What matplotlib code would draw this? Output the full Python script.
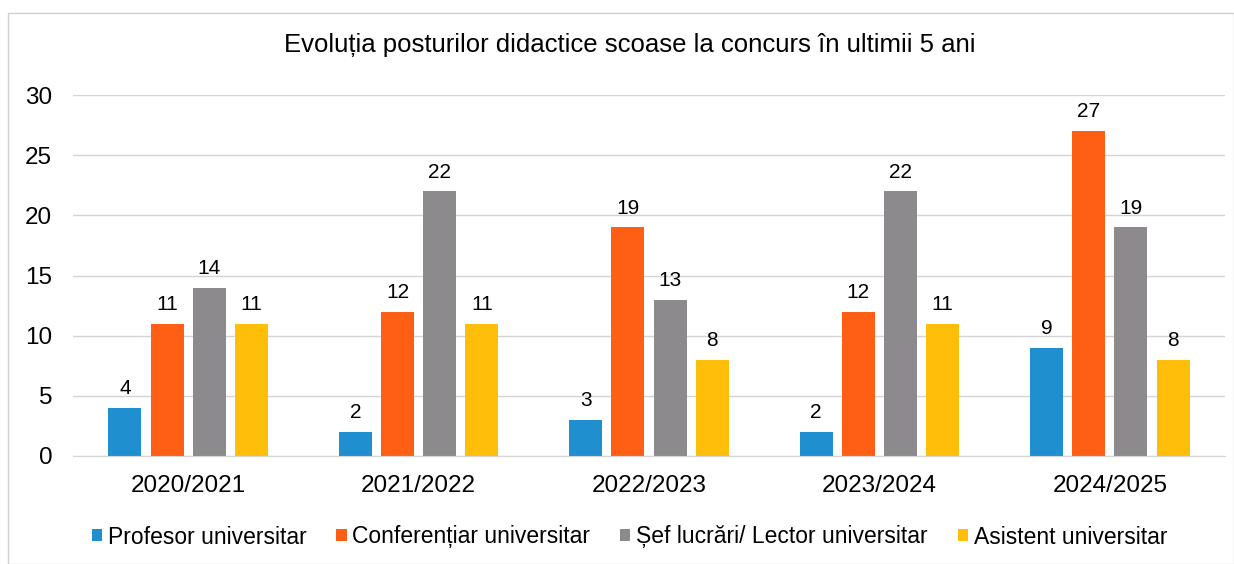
import matplotlib
matplotlib.use('Agg')
import matplotlib.pyplot as plt
import numpy as np

plt.rcParams['font.family'] = ['Liberation Sans', 'DejaVu Sans']

years = ['2020/2021', '2021/2022', '2022/2023', '2023/2024', '2024/2025']
series = ['Profesor universitar', 'Conferențiar universitar',
          'Șef lucrări/ Lector universitar', 'Asistent universitar']
profesor = [4, 2, 3, 2, 9]
conferentiar = [11, 12, 19, 12, 27]
lector = [14, 22, 13, 22, 19]
asistent = [11, 11, 8, 11, 8]
colors = ['#1f8fd0', '#ff5f14', '#8c8a8c', '#ffbe0a']

fig = plt.figure(figsize=(12.34, 5.64), dpi=100)
ax = fig.add_axes([73/1234, 1 - 456/564, 1152/1234, 361/564])

x = np.arange(len(years))
w = 0.143
step = 0.183
for i, (vals, name, c) in enumerate(zip([profesor, conferentiar, lector, asistent], series, colors)):
    pos = x + (i - 1.5) * step
    ax.bar(pos, vals, w, color=c, label=name)
    for xb, v in zip(pos, vals):
        ax.text(xb, v + 0.8, str(v), ha='center', va='bottom', fontsize=15)

ax.set_xlim(-0.5, 4.5)
ax.set_ylim(0, 30)
ax.set_yticks(range(0, 31, 5))
ax.set_xticks(x)
ax.set_xticklabels(years)
ax.tick_params(axis='both', length=0, labelsize=17.5)
ax.tick_params(axis='y', pad=15)
ax.tick_params(axis='x', pad=14)
ax.yaxis.grid(True, color='#d4d4d4', linewidth=1)
ax.set_axisbelow(True)
for s in ['top', 'right', 'left']:
    ax.spines[s].set_visible(False)
ax.spines['bottom'].set_color('#d4d4d4')

fig.text(0.51, 1 - 45/564, 'Evoluția posturilor didactice scoase la concurs în ultimii 5 ani',
         ha='center', va='center', fontsize=18.5)

fig.legend(loc='center', bbox_to_anchor=(0.51, 1 - 537/564), ncol=4, frameon=False,
           fontsize=16.5, handlelength=0.45, handleheight=0.45, handletextpad=0.25,
           columnspacing=1.3)

fig.patches.append(plt.Rectangle((8/1234, 0), 1226/1234, 1 - 13/564, transform=fig.transFigure,
                                 fill=False, edgecolor='#d0d0d0', linewidth=1))

fig.savefig('out.png', dpi=100)
